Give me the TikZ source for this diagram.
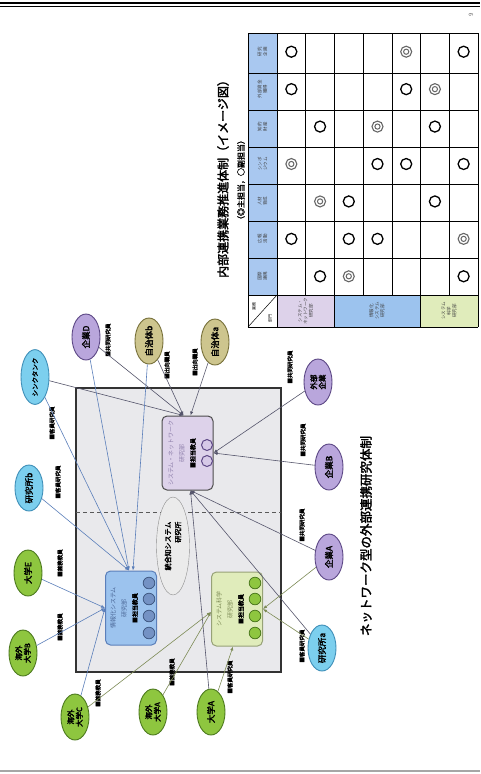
\documentclass[tikz,border=0pt]{standalone}
\usepackage{fontspec}
\setmainfont{Noto Sans CJK JP}[AutoFakeBold=2.5]
\usetikzlibrary{shapes.geometric,arrows.meta}
\definecolor{cUniv}{HTML}{8EC63F}
\definecolor{cUnivD}{HTML}{4D7A1F}
\definecolor{cFirm}{HTML}{B9A6DC}
\definecolor{cFirmD}{HTML}{5C4785}
\definecolor{cGov}{HTML}{CDC58E}
\definecolor{cGovD}{HTML}{77703A}
\definecolor{cInst}{HTML}{7CCFEE}
\definecolor{cInstD}{HTML}{3F8FB8}
\definecolor{cBack}{HTML}{E9E9EC}
\definecolor{cPurBox}{HTML}{DDD2EA}
\definecolor{cBluBox}{HTML}{9CC3EE}
\definecolor{cGrnBox}{HTML}{E0ECBB}
\definecolor{cHead}{HTML}{A9C8F0}
\definecolor{lnBlue}{HTML}{5B7FBA}
\definecolor{lnPur}{HTML}{55556B}
\definecolor{lnGrn}{HTML}{7D8B55}
\begin{document}
\begin{tikzpicture}[x=1pt,y=-1pt,
    org/.style={ellipse,draw,line width=0.9pt,minimum width=46pt,minimum height=28pt,
      inner sep=0pt,rotate=90,align=center,font=\fontsize{8.5}{9}\selectfont\bfseries},
    org2/.style={font=\fontsize{7.5}{8.5}\selectfont\bfseries},
    univ/.style={org,fill=cUniv,draw=cUnivD},
    firm/.style={org,fill=cFirm,draw=cFirmD},
    gov/.style={org,fill=cGov,draw=cGovD},
    inst/.style={org,fill=cInst,draw=cInstD},
    unit/.style={draw=black!70,rounded corners=5pt,line width=1pt,rotate=90,
      minimum width=74pt,minimum height=51pt},
    role/.style={rotate=90,inner sep=0pt,font=\fontsize{5.5}{6}\selectfont\bfseries},
    unittext/.style={rotate=90,align=center,inner sep=0pt,font=\fontsize{6}{11}\selectfont},
    link/.style={-{Latex[length=4pt,width=3.2pt]},line width=0.6pt},
  ]
  \fill[white] (0,0) rectangle (480,774);
  \useasboundingbox (0,0) rectangle (480,774);
  \draw[line width=2pt] (0,3) -- (480,3);
  \draw[line width=0.6pt] (0,6.5) -- (480,6.5);
  \draw[line width=1.5pt,black!35] (0,771) -- (480,771);
  \node[rotate=90,font=\fontsize{6}{6}\selectfont,black!60] (pageno) at (471,15) {9};

  % table
  \node[rotate=90,font=\fontsize{12}{12}\selectfont\bfseries] (ttitle) at (223,176)
    {内部連携業務推進体制（イメージ図）};
  \node[rotate=90,font=\fontsize{8}{8}\selectfont\bfseries] (tsub) at (241,180)
    {（◎主担当，○副担当）};
  \fill[cHead] (248,33) rectangle (277,295);
  \fill[cPurBox] (277,295) rectangle (334,327);
  \fill[cBluBox] (334,295) rectangle (420,327);
  \fill[cGrnBox] (420,295) rectangle (478,327);
  \foreach \gx in {248,277,305,334,363,392,420,449,478}
    \draw[line width=0.7pt] (\gx,33) -- (\gx,295);
  \foreach \gy in {33,73,110,147,184,221,258,295,327}
    \draw[line width=0.7pt] (248,\gy) -- (478,\gy);
  \foreach \gx in {248,277,334,420,478}
    \draw[line width=0.7pt] (\gx,295) -- (\gx,327);
  \draw[line width=0.5pt] (248,327) -- (277,295); % corner
  \node[rotate=90,font=\fontsize{4}{4}\selectfont] (cnA) at (254,306) {業務};
  \node[rotate=90,font=\fontsize{4}{4}\selectfont] (cnB) at (270,318) {部門};
  \foreach \r/\txt in {1/研究\\企画,2/外部資金\\獲得,3/知的\\財産,4/シンポ\\ジウム,
      5/人材\\育成,6/広報\\活動,7/国際\\連携}{
    \pgfmathsetmacro{\hy}{33+(\r-0.5)*37.43}
    \node[rotate=90,align=center,font=\fontsize{4.5}{5.5}\selectfont,black!75] at (262.5,\hy) {\txt};
  }
  \node[unittext,font=\fontsize{4.5}{5.5}\selectfont,black!75] (rwP) at (305.5,311) {システム・\\ネットワーク\\研究部};
  \node[unittext,font=\fontsize{4.5}{5.5}\selectfont,black!75] (rwB) at (377,311) {情報化\\システム\\研究部};
  \node[unittext,font=\fontsize{4.5}{5.5}\selectfont,black!75] (rwG) at (449,311) {システム\\科学\\研究部};
  \foreach \c/\r/\t in {1/1/1,5/1/2,7/1/1, 1/2/1,5/2/1,6/2/2, 2/3/1,4/3/2,6/3/1,
      1/4/2,4/4/1,5/4/1,7/4/1, 2/5/2,3/5/1,6/5/1, 1/6/1,3/6/1,4/6/1,7/6/2,
      2/7/1,3/7/2,7/7/1}{
    \pgfmathsetmacro{\mx}{277+(\c-0.5)*28.71}
    \pgfmathsetmacro{\my}{33+(\r-0.5)*37.43}
    \ifnum\t=1
      \draw[line width=1.3pt] (\mx,\my) circle (5.5);
    \else
      \draw[line width=1.1pt,black!60] (\mx,\my) circle (5.5);
      \draw[line width=1pt,black!60] (\mx,\my) circle (2.6);
    \fi
  }

  % network
  \draw[fill=cBack,draw=black!80,line width=1.2pt] (76,388) rectangle (281,672);
  \draw[line width=1pt,black!65,dash pattern=on 4pt off 3pt] (76,512) -- (281,512);
  \node[ellipse,draw=black!45,fill=white!92!black,rotate=90,minimum width=98pt,
    minimum height=33pt,inner sep=0pt,align=right,font=\fontsize{7}{10}\selectfont\bfseries]
    (lab) at (173,546) {統合知システム\\研究所};

  \node[unit,fill=cPurBox] (pbox) at (187.5,453) {};
  \node[unit,fill=cBluBox,draw=lnBlue] (bbox) at (131,608) {};
  \node[unit,fill=cGrnBox,draw=lnGrn!80] (gbox) at (237,609) {};
  \node[unittext,text=cFirmD!70] (ptext) at (182,453)
    {システム・ネットワーク\\研究部\\\textcolor{black}{\bfseries ■担当教員}};
  \node[unittext,text=lnBlue!80!black] (btext) at (124,608)
    {情報化システム\\研究部\\\textcolor{black}{\bfseries ■担当教員}};
  \node[unittext,text=lnGrn] (gtext) at (230,609)
    {システム科学\\研究部\\\textcolor{black}{\bfseries ■担当教員}};
  \foreach \py in {445,461}
    \draw[fill=cPurBox!80!cFirm,draw=cFirmD,line width=1pt] (207,\py) circle (5.5);
  \foreach \py in {583,599,616,633}{
    \draw[fill=lnBlue!85,draw=lnBlue!70!black,line width=0.8pt] (149,\py) circle (5.8);
    \draw[fill=cUniv,draw=cUnivD,line width=0.8pt] (255,\py) circle (5.8);
  }

  \node[inst,font=\fontsize{6.5}{7}\selectfont\bfseries] (think) at (35,377) {シンクタンク};
  \node[firm] (firmD) at (86,337) {企業D};
  \node[gov] (govb) at (149,341) {自治体b};
  \node[gov] (gova) at (215,342) {自治体a};
  \node[firm,org2] (firmX) at (318,382) {外部\\企業};
  \node[firm] (firmB) at (329,467) {企業B};
  \node[firm] (firmA) at (329,557) {企業A};
  \node[inst] (insta) at (322,648) {研究所a};
  \node[univ] (univA) at (211,712) {大学A};
  \node[univ,org2] (ouniA) at (153,712) {海外\\大学A};
  \node[univ,org2] (ouniC) at (75,717) {海外\\大学C};
  \node[univ,org2] (ouniB) at (23,653) {海外\\大学B};
  \node[univ] (univE) at (28,573) {大学E};
  \node[inst] (instb) at (29,488) {研究所b};

  \node[role] (rD) at (108,340) {■共同研究員};
  \node[role] (rGb) at (167,365) {■出向職員};
  \node[role] (rGa) at (195,362) {■出向職員};
  \node[role] (rX) at (290,367) {■共同研究員};
  \node[role] (rB) at (303,440) {■共同研究員};
  \node[role] (rA) at (302,525) {■共同研究員};
  \node[role] (rIa) at (302,646) {■客員研究員};
  \node[role] (rUA) at (230,677) {■客員研究員};
  \node[role] (rOA) at (172,672) {■兼務教員};
  \node[role] (rOC) at (98,693) {■兼務教員};
  \node[role] (rOB) at (60,627) {■兼務教員};
  \node[role] (rE) at (60,563) {■兼務教員};
  \node[role] (rIb) at (58,482) {■客員研究員};
  \node[role] (rT) at (52,423) {■客員研究員};

  \draw[link,lnPur] (think) -- ([xshift=-4pt]pbox.east);
  \draw[link,lnPur] (firmD) -- ([xshift=-4pt]pbox.east);
  \draw[link,lnPur] (govb) -- ([xshift=-4pt]pbox.east);
  \draw[link,lnPur] (gova) -- ([xshift=3pt]pbox.east);
  \draw[link,lnPur] (firmX) -- (pbox.south);
  \draw[link,lnPur] (firmB) -- (pbox.south);
  \draw[link,lnPur] (firmA) -- ([xshift=3pt]pbox.west);
  \draw[link,lnPur] (insta) -- ([xshift=3pt]pbox.west);
  \draw[link,lnPur] (univA) -- ([xshift=3pt]pbox.west);
  \draw[link,lnBlue] (think) -- ([xshift=-2pt]bbox.east);
  \draw[link,lnBlue] (firmD) -- ([xshift=-2pt]bbox.east);
  \draw[link,lnBlue] (govb) -- ([xshift=2pt]bbox.east);
  \draw[link,lnBlue] (instb) -- ([xshift=-2pt]bbox.east);
  \draw[link,lnBlue] (univE) -- (bbox.north);
  \draw[link,lnBlue] (ouniB) -- (bbox.north);
  \draw[link,lnBlue] (ouniC) -- (bbox.north);
  \draw[link,lnGrn] (ouniC) -- ([yshift=-3pt]gbox.north);
  \draw[link,lnGrn] (ouniA) -- ([yshift=-3pt]gbox.north);
  \draw[link,lnGrn] (univA) -- ([xshift=-4pt]gbox.west);
  \draw[link,lnGrn] (firmA) -- (gbox.south);
  \draw[link,lnGrn] (insta) -- (gbox.south);

  \node[rotate=90,font=\fontsize{12.5}{12.5}\selectfont\bfseries] (caption) at (366,536)
    {ネットワーク型の外部連携研究体制};
\end{tikzpicture}
\end{document}
